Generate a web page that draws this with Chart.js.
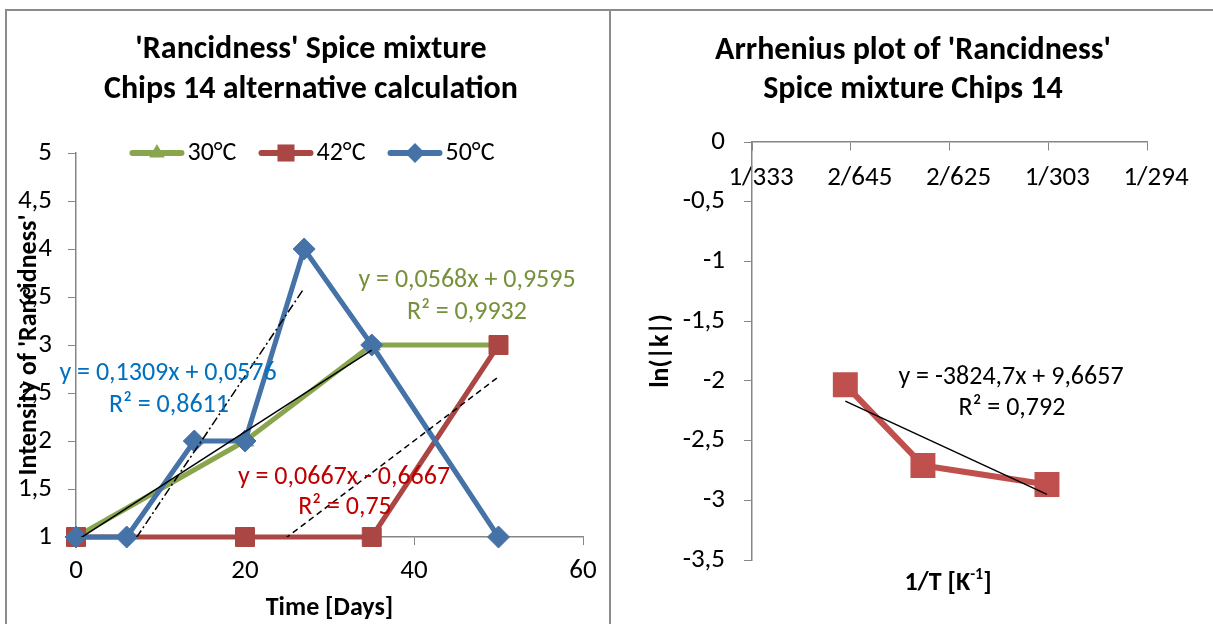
<!DOCTYPE html>
<html>
<head>
<meta charset="utf-8">
<title>Rancidness Spice mixture Chips 14</title>
<script src="https://cdn.jsdelivr.net/npm/chart.js@4.4.1/dist/chart.umd.min.js"></script>
<style>
  html, body { margin: 0; padding: 0; background: #fff; }
  #page { position: relative; width: 1213px; height: 624px; overflow: hidden; background: #fff; }
  canvas { position: absolute; top: 0; }
  #leftChart { left: 0; }
  #rightChart { left: 610px; }
  .frame { position: absolute; background: #8c8c8c; }
</style>
</head>
<body>
<div id="page">
  <canvas id="leftChart" width="610" height="624"></canvas>
  <canvas id="rightChart" width="603" height="624"></canvas>
  <div class="frame" style="left:5px;top:9px;width:1208px;height:2px"></div>
  <div class="frame" style="left:5px;top:9px;width:2px;height:615px"></div>
  <div class="frame" style="left:609px;top:9px;width:2px;height:615px"></div>
</div>
<script>
(function() {
    'use strict';

    // left chart: rancidness score vs storage days
    var days30 = [0, 20, 35, 50];
    var score30 = [1, 2, 3, 3];
    var days42 = [0, 20, 35, 50];
    var score42 = [1, 1, 1, 3];
    var days50 = [0, 6, 14, 20, 27, 35, 50];
    var score50 = [1, 1, 2, 2, 4, 3, 1];
    var seriesNames = ['30°C', '42°C', '50°C'];
    var seriesColors = ['#89A54E', '#AA4643', '#4572A7'];
    var seriesMarkers = ['triangle', 'rect', 'rectRot'];
    var dayTickLabels = ['0', '20', '40', '60'];
    var scoreTickLabels = ['1', '1,5', '2', '2,5', '3', '3,5', '4', '4,5', '5'];

    // linear trendlines (as printed on the chart)
    var trendSlope = [0.0568, 0.0667, 0.1309];
    var trendIntercept = [0.9595, -0.6667, 0.0576];
    var trendFrom = [0, 20, 6];
    var trendTo = [35, 50, 27];
    var trendDash = [[], [6, 4], [9, 3, 2, 3]];

    // right chart: Arrhenius plot
    var invTemp = [0.0030945, 0.0031731, 0.0032987];
    var lnK = [-2.033, -2.708, -2.868];
    var invTempTickLabels = ['1/333', '2/645', '2/625', '1/303', '1/294'];
    var lnKTickLabels = ['-3,5', '-3', '-2,5', '-2', '-1,5', '-1', '-0,5', '0'];
    var arrSlope = -3824.7;
    var arrIntercept = 9.6657;

    var FONT = 'Carlito, Calibri, Lato, sans-serif';
    var AXIS_GREY = '#868686';
    Chart.defaults.font.family = FONT;
    Chart.defaults.color = '#000';

    var toPoints = function(xs, ys) {
        return xs.map(function(x, i) { return {x: x, y: ys[i]}; });
    };

    var trendPoints = function(slope, intercept, from, to) {
        return [{x: from, y: slope * from + intercept}, {x: to, y: slope * to + intercept}];
    };

    var drawMarker = function(ctx, style, x, y, r, color) {
        ctx.save();
        ctx.fillStyle = color;
        ctx.beginPath();
        if (style === 'triangle') {
            ctx.moveTo(x, y - r);
            ctx.lineTo(x + r * 0.866, y + r * 0.5);
            ctx.lineTo(x - r * 0.866, y + r * 0.5);
        } else if (style === 'rect') {
            var s = r * Math.SQRT1_2;
            ctx.rect(x - s, y - s, 2 * s, 2 * s);
        } else {
            ctx.moveTo(x - r, y);
            ctx.lineTo(x, y - r);
            ctx.lineTo(x + r, y);
            ctx.lineTo(x, y + r);
        }
        ctx.closePath();
        ctx.fill();
        ctx.restore();
    };

    var markerRadius = {triangle: 10, rect: 13.4, rectRot: 11};

    // free text: titles, trendline equations
    var textPlugin = {
        id: 'chartTexts',
        afterDraw: function(chart, args, opts) {
            var ctx = chart.ctx;
            (opts.items || []).forEach(function(t) {
                var parts = t.parts || [{text: t.text, font: t.font}];
                ctx.save();
                ctx.fillStyle = t.color || '#000';
                ctx.textBaseline = 'middle';
                ctx.textAlign = 'left';
                var total = 0;
                parts.forEach(function(p) {
                    ctx.font = p.font;
                    p.w = ctx.measureText(p.text).width;
                    total += p.w;
                });
                var x = t.x - total / 2;
                parts.forEach(function(p) {
                    ctx.font = p.font;
                    ctx.fillText(p.text, x, t.y + (p.dy || 0));
                    x += p.w;
                });
                ctx.restore();
            });
        }
    };

    // excel style legend: line with marker in the middle
    var legendPlugin = {
        id: 'lineLegend',
        afterDraw: function(chart, args, opts) {
            var ctx = chart.ctx;
            ctx.save();
            ctx.font = opts.font;
            var widths = seriesNames.map(function(n) { return ctx.measureText(n).width; });
            var total = 0;
            widths.forEach(function(w) { total += opts.lineLen + opts.gap + w; });
            total += opts.itemGap * (seriesNames.length - 1);
            var x = opts.centerX - total / 2;
            var y = opts.y;
            seriesNames.forEach(function(name, i) {
                ctx.strokeStyle = seriesColors[i];
                ctx.lineWidth = 6;
                ctx.lineCap = 'round';
                ctx.beginPath();
                ctx.moveTo(x + 3, y);
                ctx.lineTo(x + opts.lineLen - 3, y);
                ctx.stroke();
                drawMarker(ctx, seriesMarkers[i], x + opts.lineLen / 2, y, markerRadius[seriesMarkers[i]] * 0.9, seriesColors[i]);
                ctx.fillStyle = '#000';
                ctx.textAlign = 'left';
                ctx.textBaseline = 'middle';
                ctx.fillText(name, x + opts.lineLen + opts.gap, y);
                x += opts.lineLen + opts.gap + widths[i] + opts.itemGap;
            });
            ctx.restore();
        }
    };

    var seriesDataset = function(i, xs, ys, order) {
        return {
            label: seriesNames[i],
            data: toPoints(xs, ys),
            borderColor: seriesColors[i],
            backgroundColor: seriesColors[i],
            borderWidth: 5,
            borderJoinStyle: 'round',
            pointStyle: seriesMarkers[i],
            pointRadius: markerRadius[seriesMarkers[i]],
            pointBackgroundColor: seriesColors[i],
            pointBorderColor: seriesColors[i],
            pointBorderWidth: 1,
            tension: 0,
            clip: false,
            order: order
        };
    };

    var trendDataset = function(i) {
        return {
            label: 'trend ' + seriesNames[i],
            data: trendPoints(trendSlope[i], trendIntercept[i], trendFrom[i], trendTo[i]),
            borderColor: '#000',
            borderWidth: 1.5,
            borderDash: trendDash[i],
            pointRadius: 0,
            clip: 0,
            order: 0
        };
    };

    var tickFont = {size: 27};
    var axisTitleFont = {size: 26, weight: 'bold'};
    var labelFont = '26px ' + FONT;
    var titleFont = 'bold 32px ' + FONT;

    new Chart(document.getElementById('leftChart'), {
        type: 'line',
        data: {
            datasets: [
                trendDataset(0), trendDataset(1), trendDataset(2),
                seriesDataset(2, days50, score50, 1),
                seriesDataset(1, days42, score42, 2),
                seriesDataset(0, days30, score30, 3)
            ]
        },
        options: {
            responsive: false,
            animation: false,
            layout: {padding: {top: 153, right: 27, bottom: 0, left: 0}},
            plugins: {
                legend: {display: false},
                title: {display: false},
                tooltip: {enabled: false},
                lineLegend: {font: labelFont, centerX: 312, y: 153, lineLen: 55, gap: 3, itemGap: 22},
                chartTexts: {
                    items: [
                        {text: "'Rancidness' Spice mixture", x: 311, y: 50, font: titleFont},
                        {text: 'Chips 14 alternative calculation', x: 311, y: 90, font: titleFont},
                        {text: 'y = 0,0568x + 0,9595', x: 467, y: 280, font: labelFont, color: '#76923C'},
                        {text: 'R² = 0,9932', x: 467, y: 312, font: labelFont, color: '#76923C'},
                        {text: 'y = 0,1309x + 0,0576', x: 168, y: 373, font: labelFont, color: '#0070C0'},
                        {text: 'R² = 0,8611', x: 169, y: 405, font: labelFont, color: '#0070C0'},
                        {text: 'y = 0,0667x - 0,6667', x: 344, y: 477, font: labelFont, color: '#C00000'},
                        {text: 'R² = 0,75', x: 345, y: 507, font: labelFont, color: '#C00000'}
                    ]
                }
            },
            scales: {
                x: {
                    type: 'linear',
                    min: 0,
                    max: 60,
                    afterFit: function(scale) { scale.height = 87; },
                    ticks: {
                        stepSize: 20,
                        font: tickFont,
                        padding: 10,
                        callback: function(value, index) { return dayTickLabels[index]; }
                    },
                    grid: {drawOnChartArea: false, drawTicks: true, tickLength: 8, color: AXIS_GREY},
                    border: {color: AXIS_GREY, width: 1.5},
                    title: {display: true, text: 'Time [Days]', font: axisTitleFont, padding: {top: 0, bottom: 0}}
                },
                y: {
                    type: 'linear',
                    min: 1,
                    max: 5,
                    afterFit: function(scale) { scale.width = 76; },
                    ticks: {
                        stepSize: 0.5,
                        font: tickFont,
                        padding: 16,
                        callback: function(value, index) { return scoreTickLabels[index]; }
                    },
                    grid: {drawOnChartArea: false, drawTicks: true, tickLength: 8, color: AXIS_GREY},
                    border: {color: AXIS_GREY, width: 1.5},
                    title: {display: true, text: "Intensity of 'Rancidness'", font: axisTitleFont, padding: {top: 14, bottom: 14}}
                }
            }
        },
        plugins: [legendPlugin, textPlugin]
    });

    new Chart(document.getElementById('rightChart'), {
        type: 'line',
        data: {
            datasets: [
                {
                    label: 'trend',
                    data: trendPoints(arrSlope, arrIntercept, invTemp[0], invTemp[invTemp.length - 1]),
                    borderColor: '#000',
                    borderWidth: 1.5,
                    pointRadius: 0,
                    order: 0
                },
                {
                    label: 'ln(|k|)',
                    data: toPoints(invTemp, lnK),
                    borderColor: '#C0504D',
                    backgroundColor: '#C0504D',
                    borderWidth: 6,
                    borderJoinStyle: 'round',
                    pointStyle: 'rect',
                    pointRadius: 13.4,
                    pointBackgroundColor: '#C0504D',
                    pointBorderColor: '#C0504D',
                    tension: 0,
                    clip: false,
                    order: 1
                }
            ]
        },
        options: {
            responsive: false,
            animation: false,
            layout: {padding: {top: 142, right: 66, bottom: 64, left: 0}},
            plugins: {
                legend: {display: false},
                title: {display: false},
                tooltip: {enabled: false},
                chartTexts: {
                    items: [
                        {text: "Arrhenius plot of 'Rancidness'", x: 303, y: 51, font: titleFont},
                        {text: 'Spice mixture Chips 14', x: 303, y: 90, font: titleFont},
                        {text: 'y = -3824,7x + 9,6657', x: 401, y: 377, font: labelFont},
                        {text: 'R² = 0,792', x: 402, y: 408, font: labelFont},
                        {x: 338, y: 583, parts: [
                            {text: '1/T [K', font: 'bold 26px ' + FONT},
                            {text: '-1', font: 'bold 16px ' + FONT, dy: -8},
                            {text: ']', font: 'bold 26px ' + FONT}
                        ]}
                    ]
                }
            },
            scales: {
                x: {
                    type: 'linear',
                    position: {y: 0},
                    min: 0.003,
                    max: 0.0034,
                    ticks: {
                        stepSize: 0.0001,
                        font: tickFont,
                        padding: 12,
                        labelOffset: 9,
                        callback: function(value, index) { return invTempTickLabels[index]; }
                    },
                    grid: {drawOnChartArea: false, drawTicks: true, tickLength: 8, color: AXIS_GREY},
                    border: {color: AXIS_GREY, width: 1.5}
                },
                y: {
                    type: 'linear',
                    min: -3.5,
                    max: 0,
                    afterFit: function(scale) { scale.width = 142; },
                    ticks: {
                        stepSize: 0.5,
                        font: tickFont,
                        padding: 19,
                        callback: function(value, index) { return lnKTickLabels[index]; }
                    },
                    grid: {drawOnChartArea: false, drawTicks: true, tickLength: 8, color: AXIS_GREY},
                    border: {color: AXIS_GREY, width: 1.5},
                    title: {display: true, text: 'ln(|k|)', font: axisTitleFont, padding: {top: 36, bottom: 36}}
                }
            }
        },
        plugins: [textPlugin]
    });
})();
</script>
</body>
</html>
